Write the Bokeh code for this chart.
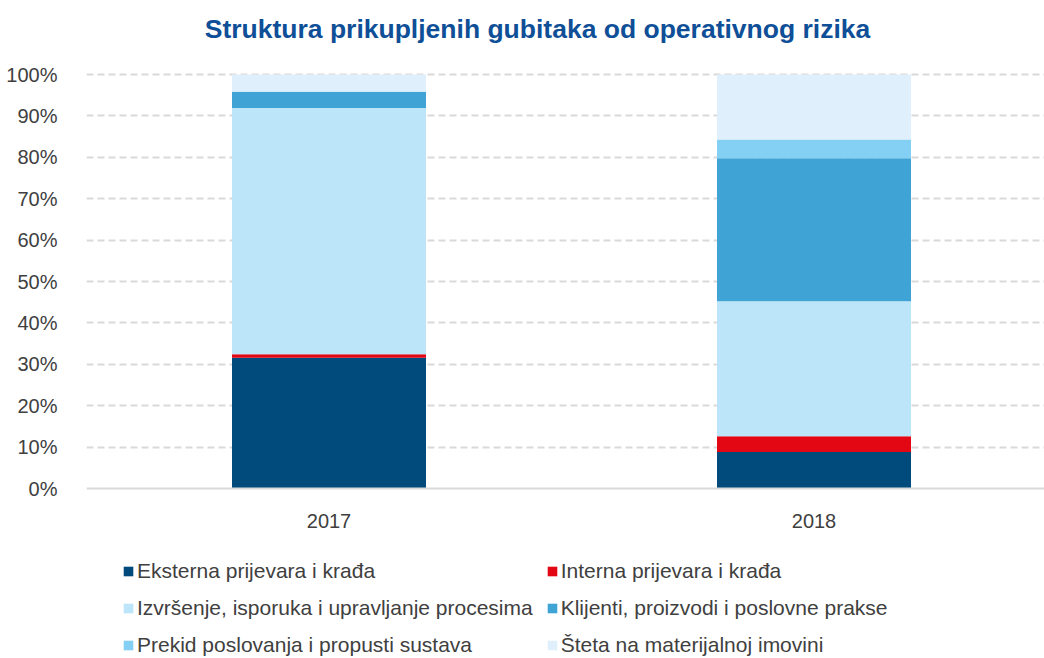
from bokeh.plotting import figure
from bokeh.models import (ColumnDataSource, Range1d, FixedTicker, NumeralTickFormatter,
                          Legend, LegendItem, Label, Span)
from bokeh.core.properties import value
from bokeh.embed import file_html
from bokeh.resources import INLINE

years = ["2017", "2018"]
series_names = [
    "Eksterna prijevara i krađa",
    "Interna prijevara i krađa",
    "Izvršenje, isporuka i upravljanje procesima",
    "Klijenti, proizvodi i poslovne prakse",
    "Prekid poslovanja i propusti sustava",
    "Šteta na materijalnoj imovini",
]
eksterna = [31.6, 8.8]
interna = [0.8, 3.8]
izvrsenje = [59.5, 32.6]
klijenti = [3.9, 34.6]
prekid = [0.1, 4.5]
steta = [4.1, 15.7]
colors = ["#004A7C", "#E30613", "#BDE5F9", "#3FA3D6", "#84CFF4", "#DFF0FC"]
title_text = "Struktura prikupljenih gubitaka od operativnog rizika"

keys = ["eksterna", "interna", "izvrsenje", "klijenti", "prekid", "steta"]
vals = [eksterna, interna, izvrsenje, klijenti, prekid, steta]
data = {"x": [i + 0.5 for i in range(len(years))]}
for k, v in zip(keys, vals):
    data[k] = [a / 100.0 for a in v]
src = ColumnDataSource(data)

# layout geometry (pixels)
W, H = 1044, 658
LEFT = 86
ZERO_PX, ONE_PX = 488, 74          # pixel rows of 0% and 100% (from top)
PPU_Y = ZERO_PX - ONE_PX           # pixels per unit (100%)
PPU_X = 485.0
y0 = -(H - ZERO_PX) / PPU_Y
y1 = 1.0 + ONE_PX / PPU_Y
x1 = (W - LEFT) / PPU_X

FONT = "Liberation Sans"
p = figure(width=W, height=H, output_backend="svg", toolbar_location=None,
           x_range=Range1d(0, x1), y_range=Range1d(y0, y1),
           min_border_left=LEFT, min_border_right=0, min_border_top=0, min_border_bottom=0)
p.outline_line_color = None
p.background_fill_color = "white"

renderers = p.vbar_stack(keys, x="x", width=0.4, source=src, color=colors,
                         line_color=None)

# x axis drawn manually at the 0 line
p.xaxis.visible = False
p.xgrid.grid_line_color = None
p.add_layout(Span(location=0, dimension="width", line_color="#D9D9D9", line_width=2))
lab_src = ColumnDataSource(dict(x=data["x"], y=[-32.0 / PPU_Y] * len(years), t=years))
p.text(x="x", y="y", text="t", source=lab_src, text_font=value(FONT),
       text_font_size="20px", text_color="#404040", text_align="center",
       text_baseline="middle")

p.yaxis.ticker = FixedTicker(ticks=[i / 10 for i in range(11)])
p.yaxis.formatter = NumeralTickFormatter(format="0%")
p.yaxis.major_label_text_font = FONT
p.yaxis.major_label_text_font_size = "20px"
p.yaxis.major_label_text_color = "#404040"
p.yaxis.axis_line_color = None
p.yaxis.major_tick_line_color = None
p.yaxis.minor_tick_line_color = None
p.yaxis.major_label_standoff = 23

p.ygrid.ticker = FixedTicker(ticks=[i / 10 for i in range(1, 11)])
p.ygrid.grid_line_color = "#D9D9D9"
p.ygrid.grid_line_width = 2
p.ygrid.grid_line_dash = "7 4"

p.add_layout(Label(x=(537 - LEFT) / PPU_X, y=(ZERO_PX - 28) / PPU_Y, text=title_text,
                   text_font=FONT, text_font_size="26.5px", text_font_style="bold",
                   text_color="#0F4F97", text_align="center", text_baseline="middle"))

items = [LegendItem(label=n, renderers=[r]) for n, r in zip(series_names, renderers)]
legend = Legend(items=items, ncols=2, location=(36, 1), orientation="horizontal",
                label_text_font=FONT, label_text_font_size="21px", label_text_color="#404040",
                glyph_width=12, glyph_height=12, label_standoff=3, label_height=24,
                spacing=13, padding=0, margin=0, border_line_color=None,
                background_fill_alpha=0)
p.add_layout(legend, "center")

open("out.html", "w").write(file_html(p, INLINE))
